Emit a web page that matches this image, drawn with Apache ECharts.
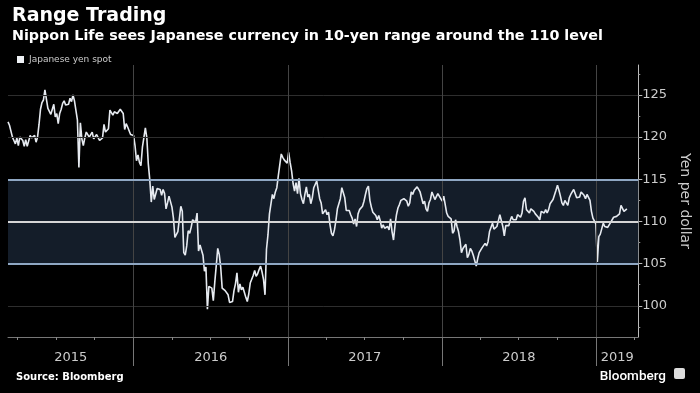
<!DOCTYPE html>
<html><head><meta charset="utf-8">
<script src="https://cdn.jsdelivr.net/npm/echarts@6/dist/echarts.min.js"></script>
<style>html,body{margin:0;padding:0;background:#000}#c{width:700px;height:393px}</style>
</head><body><div id="c"></div><script>
// ---- Data (USD/JPY, two readings per week: mid-week, Friday) ----
const seriesName = 'Japanese yen spot';
const yearAnchors = ['2015-03-13', '2016-01-01', '2017-01-06', '2018-01-05', '2019-01-04'];
const yen2015 = [
 121.8,121.4, 121.3,120.0, 119.6,119.2, 119.9,119.0, 120.0,120.2, 119.6,118.9, 119.7,118.9,
 119.0,120.2, 119.9,119.8, 120.2,119.4, 120.0,121.5, 123.3,124.1, 124.4,125.6, 124.5,123.4,
 123.4,122.7, 122.9,123.9, 122.4,122.8, 121.6,122.8, 123.3,124.0, 124.3,123.8, 123.8,123.9,
 124.6,124.2, 125.0,124.3, 124.3,122.0, 116.4,121.7, 119.8,119.0, 119.9,120.6, 120.4,120.0,
 120.3,120.6, 119.8,119.9, 120.3,120.2, 119.6,119.4, 119.9,121.5, 120.6,120.6, 121.0,123.2,
 123.1,122.6, 123.0,122.8, 122.8,122.8, 123.3,123.1, 122.8,120.9, 121.6,121.2, 121.2,120.3
];
const yen2016 = [
 120.4,120.2, 119.0,117.2, 117.9,117.0, 116.6,118.8, 118.6,121.1, 119.9,116.8, 114.9,112.3,
 114.2,112.6, 112.5,113.9, 113.9,113.8, 113.1,113.8, 113.3,111.5, 112.2,113.0, 113.2,111.7,
 110.4,108.1, 108.2,108.8, 108.7,111.8, 111.2,106.3, 106.0,107.1, 108.9,108.6, 109.3,110.2,
 110.2,109.9, 111.0,106.5, 107.2,107.0, 106.0,104.1, 104.6,99.6, 102.3,102.5, 102.1,100.6,
 102.8,104.8, 106.8,106.1, 104.6,102.1, 101.9,101.8, 101.8,101.3, 100.4,100.2, 100.5,101.8,
 102.6,103.9, 101.6,102.6, 101.9,102.2, 101.6,101.0, 100.5,101.4, 102.7,102.9, 103.6,104.2,
 103.5,103.8, 104.3,104.7, 104.0,103.1, 101.3,106.7, 108.4,110.9, 111.0,113.2, 112.7,113.5,
 114.0,115.4, 115.5,118.0, 117.6,117.3, 117.4,116.9
];
const yen2017 = [
 118.2,117.0, 116.0,114.5, 113.6,114.6, 113.3,115.1, 113.3,112.6, 112.1,113.2, 114.1,112.9,
 113.2,112.1, 112.8,114.0, 114.0,114.8, 115.0,112.7, 112.2,110.9, 111.0,111.4, 110.8,111.1,
 109.6,108.6, 108.3,109.0, 110.1,111.5, 112.1,112.7, 114.0,113.4, 112.8,111.3, 111.4,111.3,
 110.8,110.4, 109.7,110.3, 109.4,110.9, 111.4,111.3, 111.8,112.4, 113.2,113.9, 114.2,112.5,
 111.7,111.1, 111.2,110.7, 110.2,110.7, 110.1,109.2, 109.6,109.2, 109.2,109.4, 109.0,110.3,
 108.8,107.8, 109.5,110.8, 111.6,112.0, 112.5,112.5, 112.7,112.6, 112.4,111.8, 112.2,113.5,
 113.2,113.7, 113.7,114.1, 114.1,113.5, 113.6,112.1, 112.4,111.5, 111.2,112.2, 112.6,113.5,
 113.6,112.6, 112.8,113.3, 113.3,112.7
];
const yen2018 = [
 112.4,113.0, 113.1,111.0, 110.6,110.8, 110.3,108.6, 108.9,110.2, 109.4,108.8, 107.8,106.3,
 106.8,106.9, 107.3,105.7, 106.1,106.8, 106.5,106.0, 106.2,104.7, 105.6,106.3, 106.6,106.9,
 107.1,107.4, 107.1,107.6, 108.8,109.0, 109.8,109.1, 109.1,109.4, 110.1,110.8, 111.0,109.4,
 108.3,109.5, 109.7,109.5, 110.1,110.6, 110.2,110.0, 110.2,110.8, 110.9,110.5, 111.0,112.4,
 112.8,111.4, 111.2,111.0, 111.5,111.3, 111.2,110.9, 111.0,110.5, 110.2,111.2, 111.3,111.0,
 111.4,111.0, 111.4,112.1, 111.9,112.6, 112.8,113.7, 114.3,113.7, 113.0,112.2, 111.9,112.5,
 112.3,111.9, 112.8,113.2, 113.3,113.8, 114.0,112.8, 112.6,112.9, 113.5,113.6, 113.1,112.7,
 113.2,113.4, 112.5,111.2, 110.4,110.3
];
const yen2019 = [
 109.7,105.2, 108.2,108.5, 108.6,109.8, 109.4,109.6, 109.3,109.5, 109.9,109.7, 110.5,110.5,
 110.6,110.7, 110.9,111.9, 112.0,111.2, 111.3,111.5
];
const yenByYear = [yen2015, yen2016, yen2017, yen2018, yen2019];

// ---- Axes ----
const xMin = '2015-03-09T12:00:00Z';
const xMax = '2019-04-11T00:00:00Z';
const yMin = 96.3, yMax = 128.55;
const yTicks = [100, 105, 110, 115, 120, 125];
const yMinorTicks = [97.5, 102.5, 107.5, 112.5, 117.5, 122.5, 127.5];
const yearStarts = ['2016-01-01', '2017-01-01', '2018-01-01', '2019-01-01'];
const quarterTicks = ['2015-04-01','2015-07-01','2015-10-01','2016-04-01','2016-07-01','2016-10-01',
  '2017-04-01','2017-07-01','2017-10-01','2018-04-01','2018-07-01','2018-10-01','2019-04-01'];
const yearLabelPos = ['2015-08-05', '2016-07-02', '2017-07-02', '2018-07-02', '2019-02-20'];
const rangeBand = [105, 115];
const rangeMid = 110;
const gridValues = [100, 120, 125];

// ---- Build ----
const DAY = 86400000;
const ts = s => Date.parse(s.length > 10 ? s : s + 'T00:00:00Z');
const pts = [];
yearAnchors.forEach((a, k) => {
  const t0 = ts(a);
  yenByYear[k].forEach((v, i) => pts.push([t0 + (i - 1) * 3.5 * DAY, v]));
});

const chart = echarts.init(document.getElementById('c'));
const FONT = 'DejaVu Sans';
const X0 = ts(xMin), X1 = ts(xMax);
chart.setOption({
  backgroundColor: '#000',
  animation: false,
  textStyle: { fontFamily: FONT },
  title: [
    { text: 'Range Trading', left: 7, top: 2, textStyle: { color: '#fff', fontSize: 19, fontWeight: 'bold', fontFamily: FONT } },
    { text: 'Nippon Life sees Japanese currency in 10-yen range around the 110 level', left: 7, top: 24,
      textStyle: { color: '#fff', fontSize: 14.3, fontWeight: 'bold', fontFamily: FONT } },
    { text: 'Source: Bloomberg', left: 11, top: 367, textStyle: { color: '#fff', fontSize: 10, fontWeight: 'bold', fontFamily: FONT } },
    { text: 'Bloomberg', right: 29, top: 365, textStyle: { color: '#fff', fontSize: 13.5, fontWeight: 500, fontFamily: 'Roboto' } }
  ],
  graphic: [
    { type: 'rect', right: 15, top: 368, shape: { width: 11, height: 11, r: 2 }, style: { fill: '#ddd' } }
  ],
  legend: {
    data: [seriesName], left: 12, top: 50, icon: 'rect', itemWidth: 7, itemHeight: 7, itemGap: 3,
    textStyle: { color: '#ccc', fontSize: 9, fontFamily: FONT }, selectedMode: false
  },
  grid: { left: 8, right: 57, top: 65, bottom: 56 },
  xAxis: [
    { type: 'value', min: X0, max: X1, scale: true,
      axisLine: { lineStyle: { color: '#777', width: 1 } },
      axisTick: { show: true, customValues: quarterTicks.map(ts), length: 3, lineStyle: { color: '#888' } },
      axisLabel: { customValues: yearLabelPos.map(ts), color: '#ccc', fontSize: 13, margin: 14,
        formatter: v => String(new Date(v).getUTCFullYear()) },
      splitLine: { show: false } },
    { type: 'value', min: X0, max: X1, scale: true, position: 'bottom',
      axisLine: { show: false },
      axisTick: { show: true, customValues: yearStarts.map(ts), length: 29, lineStyle: { color: '#777' } },
      axisLabel: { show: false }, splitLine: { show: false } }
  ],
  yAxis: [
    { type: 'value', position: 'right', min: yMin, max: yMax,
      axisLine: { show: true, lineStyle: { color: '#bbb' } },
      axisTick: { show: true, customValues: yTicks, length: 4, lineStyle: { color: '#bbb' } },
      axisLabel: { customValues: yTicks, color: '#ccc', fontSize: 13, margin: 4 },
      splitLine: { show: false },
      name: 'Yen per dollar', nameLocation: 'middle', nameRotate: -90, nameGap: 32,
      nameTextStyle: { color: '#ccc', fontSize: 14 } },
    { type: 'value', position: 'right', min: yMin, max: yMax,
      axisLine: { show: false },
      axisTick: { show: true, customValues: yMinorTicks, length: 2, lineStyle: { color: '#999' } },
      axisLabel: { show: false }, splitLine: { show: false } }
  ],
  series: [
    { name: 'ref', type: 'line', data: [], silent: true, z: 1,
      markArea: { silent: true, itemStyle: { color: '#141d29' }, data: [[{ yAxis: rangeBand[0] }, { yAxis: rangeBand[1] }]] },
      markLine: { silent: true, symbol: ['none', 'none'], label: { show: false }, animation: false,
        data: [
          ...gridValues.map(v => ({ yAxis: v, lineStyle: { color: '#2e2e2e', width: 1, type: 'solid' } })),
          ...yearStarts.map(d => ({ xAxis: ts(d), lineStyle: { color: '#444', width: 1, type: 'solid' } })),
          ...rangeBand.map(v => ({ yAxis: v, lineStyle: { color: '#8fa7c3', width: 2, type: 'solid' } })),
          { yAxis: rangeMid, lineStyle: { color: '#d6d6d6', width: 2, type: 'solid' } }
        ] } },
    { name: seriesName, type: 'line', data: pts, showSymbol: false, symbol: 'none', z: 3,
      itemStyle: { color: '#eef1f5' }, lineStyle: { color: '#e6eaf0', width: 1.6 } }
  ]
});
</script></body></html>
